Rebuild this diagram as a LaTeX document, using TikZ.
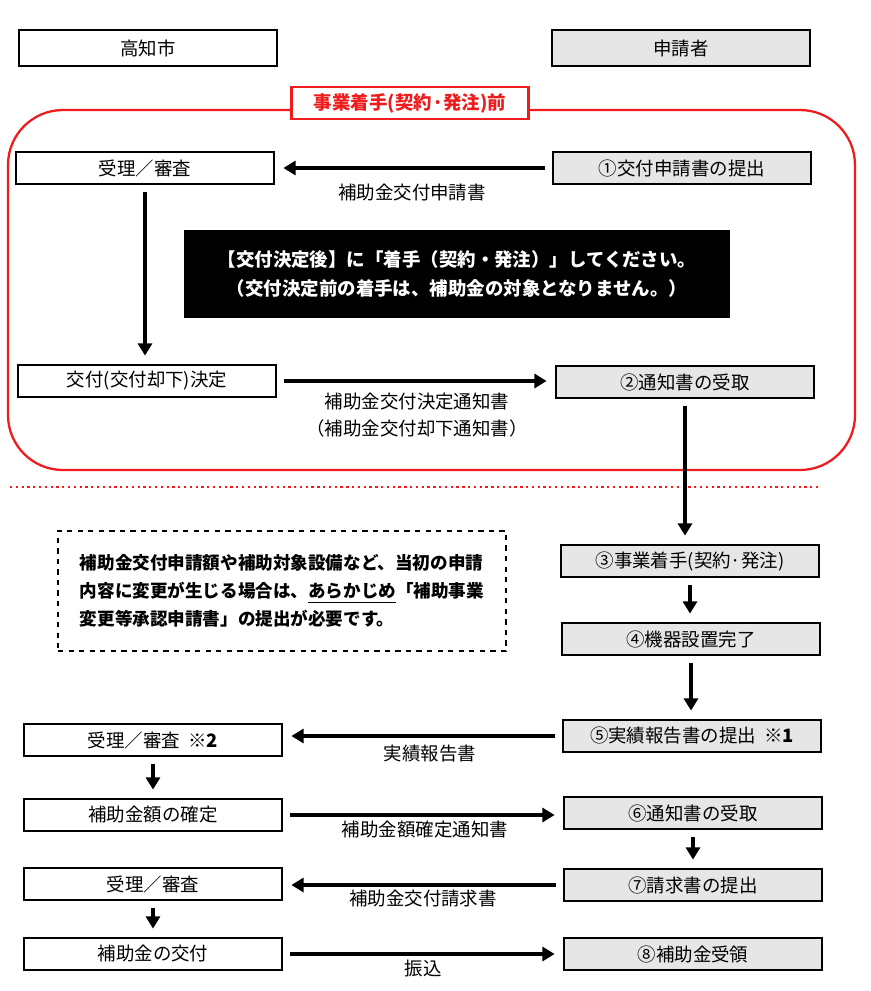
\documentclass[tikz,border=0pt]{standalone}
\usepackage{fontspec}
\setmainfont{Noto Sans CJK JP}
\usetikzlibrary{arrows.meta}
\definecolor{boxgray}{HTML}{E6E6E6}
\definecolor{alertred}{HTML}{EE1C1C}
\tikzset{
  stage/.style={draw=black, line width=0.7pt, minimum width=5.16cm, minimum height=0.64cm, inner sep=0pt, font=\fontsize{10.5}{12}\selectfont},
  app/.style={stage, fill=boxgray},
  head/.style={stage, line width=1.3pt, minimum height=0.72cm},
  flow/.style={line width=2.2pt, -{Triangle[length=7pt,width=8pt]}, shorten <=4pt, shorten >=5pt},
  doc/.style={font=\fontsize{10.5}{12}\selectfont, inner sep=1pt}
}
\begin{document}
\begin{tikzpicture}[x=0.02cm, y=-0.02cm]
\useasboundingbox (0,0) rectangle (871,991);
% header
\node[head] (city) at (148,48) {高知市};
\node[head, fill=boxgray] (applicant) at (681,48) {申請者};
% before start
\draw[alertred, line width=1.3pt, rounded corners=1.1cm] (8,110) rectangle (855,470);
\node[draw=alertred, line width=1.3pt, fill=white, text=alertred, font=\bfseries\fontsize{10.5}{12}\selectfont, minimum width=4.74cm, minimum height=0.6cm] (before) at (410,103) {事業着手(契約·発注)前};
\node[stage] (check1) at (145,168) {受理／審査};
\node[app] (submit1) at (682,168) {①交付申請書の提出};
\node[stage] (decide) at (147,381) {交付(交付却下)決定};
\node[app] (notice1) at (685,382) {②通知書の受取};
\node[fill=black, text=white, font=\bfseries\fontsize{10.5}{16}\selectfont, align=center, minimum width=10.94cm, minimum height=1.76cm] (warn) at (457,274)
  {【交付決定後】に「着手（契約・発注）」してください。\\（交付決定前の着手は、補助金の対象となりません。）};
\draw[flow] (submit1.west) -- (submit1.west -| check1.east);
\node[doc] (doc1) at (412,193) {補助金交付申請書};
\draw[flow] (check1.south) -- (check1.south |- decide.north);
\draw[flow] (decide.east) -- (decide.east -| notice1.west);
\node[doc, align=center] (doc2) at (417,415) {補助金交付決定通知書\\[3pt]（補助金交付却下通知書）};
% after start
\draw[alertred, line width=1.3pt, dotted] (10,487) -- (818,487);
\node[draw, dashed, line width=0.8pt, font=\bfseries\fontsize{10}{16}\selectfont, align=left, minimum width=8.96cm, minimum height=2.4cm] (memo) at (282,591)
  {補助金交付申請額や補助対象設備など、当初の申請\\内容に変更が生じる場合は、\underline{あらかじめ}「補助事業\\変更等承認申請書」の提出が必要です。};
\node[app] (start) at (690,561) {③事業着手(契約·発注)};
\node[app] (install) at (691,639) {④機器設置完了};
\node[app] (report) at (692,736) {⑤実績報告書の提出\ \ \textbf{※1}};
\node[stage] (check2) at (153,740) {受理／審査\ \ \textbf{※2}};
\node[stage] (fix) at (153,815) {補助金額の確定};
\node[app] (notice2) at (693,813) {⑥通知書の受取};
\node[app] (claim) at (693,885) {⑦請求書の提出};
\node[stage] (check3) at (153,884) {受理／審査};
\node[stage] (pay) at (153,954) {補助金の交付};
\node[app] (receive) at (693,954) {⑧補助金受領};
\draw[flow] (notice1.south) -- (start.north -| notice1.south);
\draw[flow] (start.south) -- (start.south |- install.north);
\draw[flow] (install.south) -- (install.south |- report.north);
\draw[flow] (report.west) -- (report.west -| check2.east);
\node[doc] (doc3) at (430,754) {実績報告書};
\draw[flow] (check2.south) -- (fix.north);
\draw[flow] (fix.east) -- (fix.east -| notice2.west);
\node[doc] (doc4) at (425,830) {補助金額確定通知書};
\draw[flow] (notice2.south) -- (claim.north);
\draw[flow] (claim.west) -- (claim.west -| check3.east);
\node[doc] (doc5) at (423,898) {補助金交付請求書};
\draw[flow] (check3.south) -- (pay.north);
\draw[flow] (pay.east) -- (receive.west);
\node[doc] (doc6) at (423,968) {振込};
\end{tikzpicture}
\end{document}
